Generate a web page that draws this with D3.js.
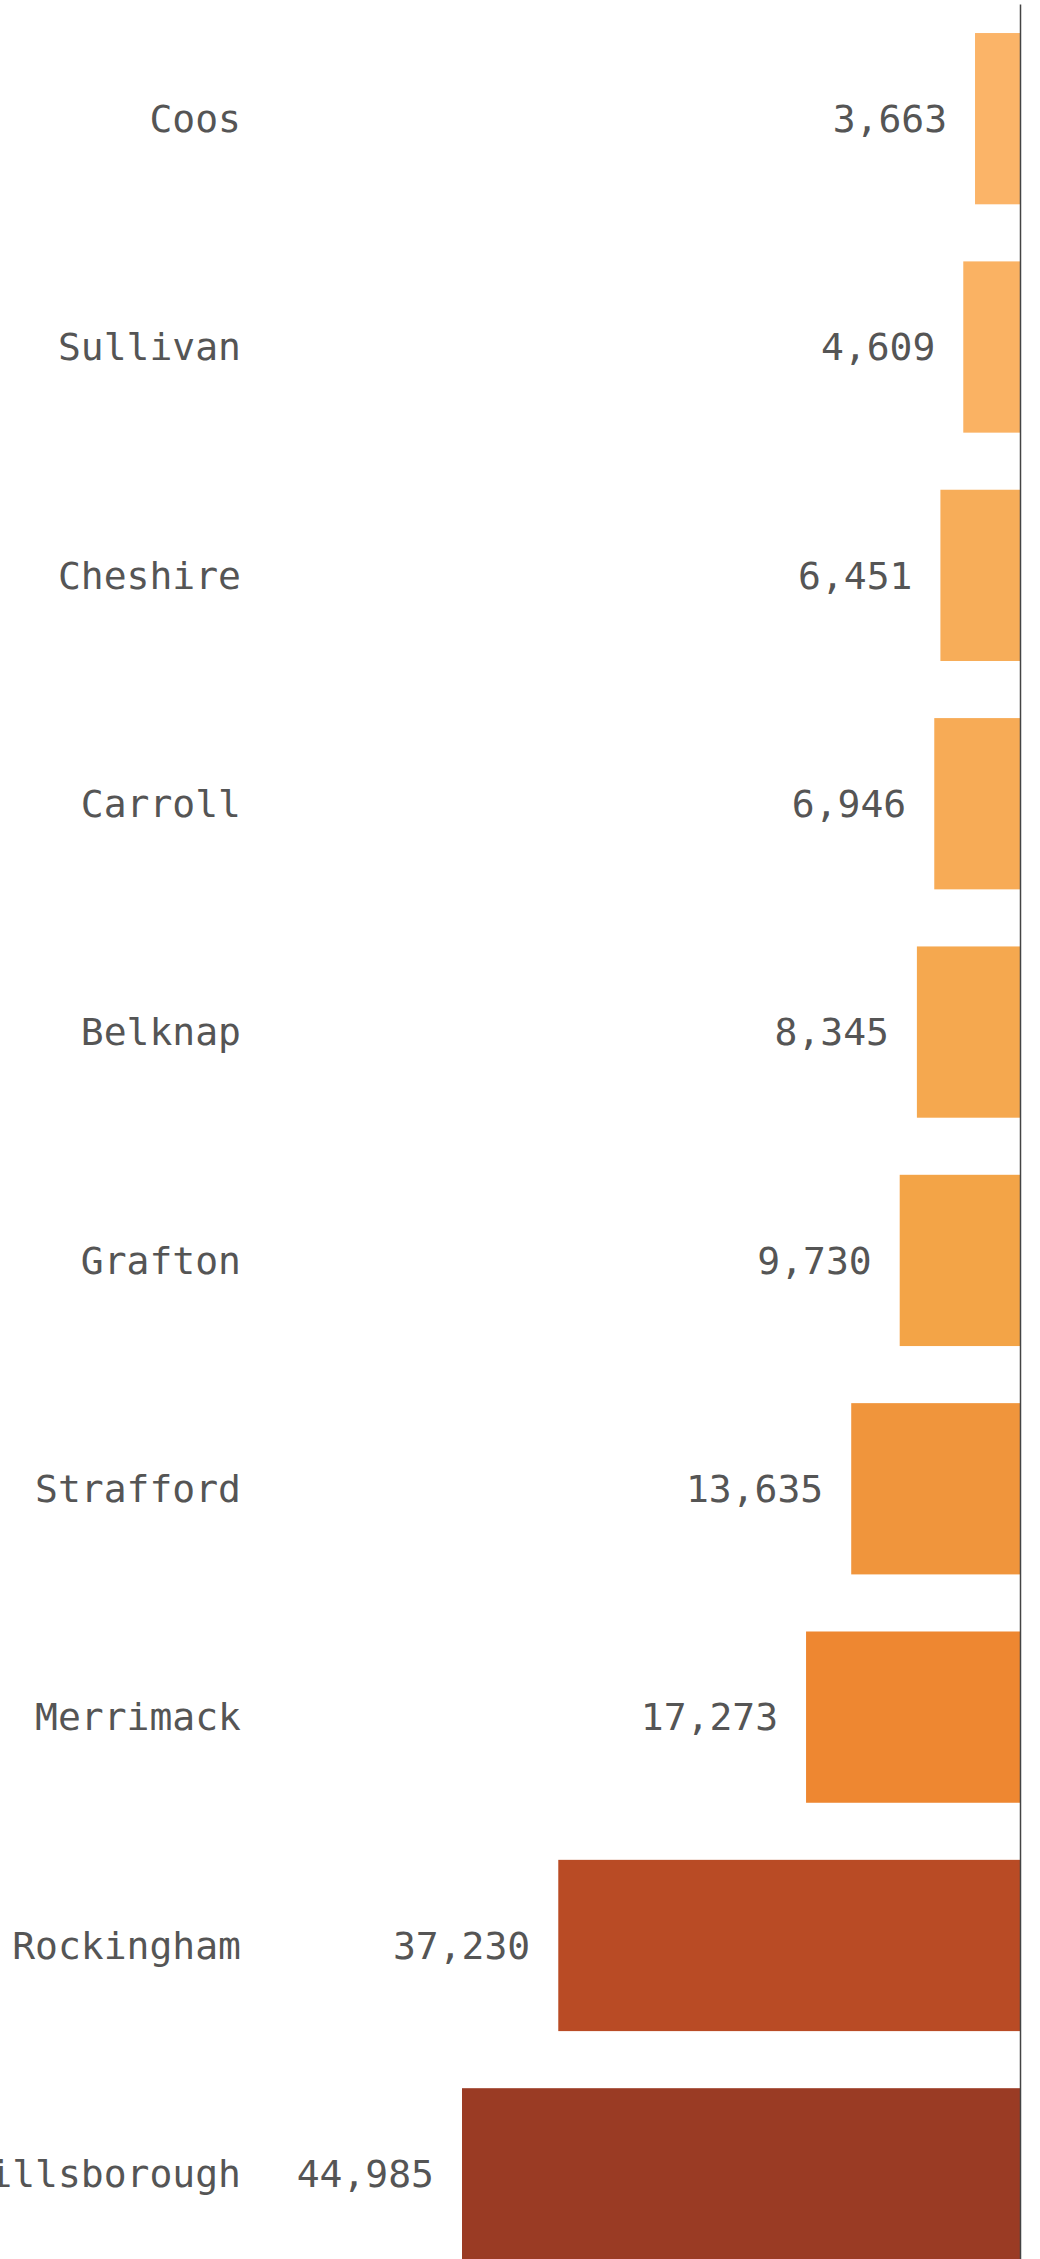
<!DOCTYPE html>
<html>
<head>
<meta charset="utf-8">
<script src="https://cdn.jsdelivr.net/npm/d3@7"></script>
<style>
  html, body { margin: 0; padding: 0; background: #fff; }
  svg { display: block; }
  text { font-family: "DejaVu Sans Mono", "Liberation Mono", monospace; font-size: 38px; fill: #555; }
</style>
</head>
<body>
<script>
// New Hampshire counties, smallest to largest
const counties = ["Coos", "Sullivan", "Cheshire", "Carroll", "Belknap",
                  "Grafton", "Strafford", "Merrimack", "Rockingham", "Hillsborough"];
const values = [3663, 4609, 6451, 6946, 8345, 9730, 13635, 17273, 37230, 44985];

// colour ramp stops
const colorStops = [3663, 9730, 17273, 37230, 44985];
const colorRange = ["#fbb468", "#f3a447", "#ee8731", "#b94b25", "#9a3b24"];

const W = 1040, H = 2259;
const axisX = 1020.5;

const rows = counties.map((c, i) => ({ county: c, value: values[i] }));

const svg = d3.select("body").append("svg")
  .attr("width", W).attr("height", H);

const y = d3.scaleBand()
  .domain(counties)
  .range([4.5, 2288])
  .paddingInner(0.25)
  .paddingOuter(0.125);

const x = d3.scaleLinear()
  .domain([0, d3.max(values)])
  .range([axisX, 462]);

const color = d3.scaleLinear()
  .domain(colorStops)
  .range(colorRange);

const fmt = d3.format(",");

// bars grow leftwards from the axis
svg.append("g").selectAll("rect")
  .data(rows)
  .join("rect")
  .attr("x", d => x(d.value))
  .attr("y", d => y(d.county))
  .attr("width", d => x(0) - x(d.value))
  .attr("height", y.bandwidth())
  .attr("fill", d => color(d.value));

// value labels just left of each bar
svg.append("g").selectAll("text")
  .data(rows)
  .join("text")
  .attr("x", d => x(d.value) - 28)
  .attr("y", d => y(d.county) + y.bandwidth() / 2)
  .attr("dy", "0.35em")
  .attr("text-anchor", "end")
  .text(d => fmt(d.value));

// county names
svg.append("g").selectAll("text")
  .data(rows)
  .join("text")
  .attr("x", 241)
  .attr("y", d => y(d.county) + y.bandwidth() / 2)
  .attr("dy", "0.35em")
  .attr("text-anchor", "end")
  .text(d => d.county);

// vertical baseline
svg.append("line")
  .attr("x1", axisX).attr("x2", axisX)
  .attr("y1", y.range()[0]).attr("y2", y.range()[1])
  .attr("stroke", "#444")
  .attr("stroke-width", 1.5);
</script>
</body>
</html>
